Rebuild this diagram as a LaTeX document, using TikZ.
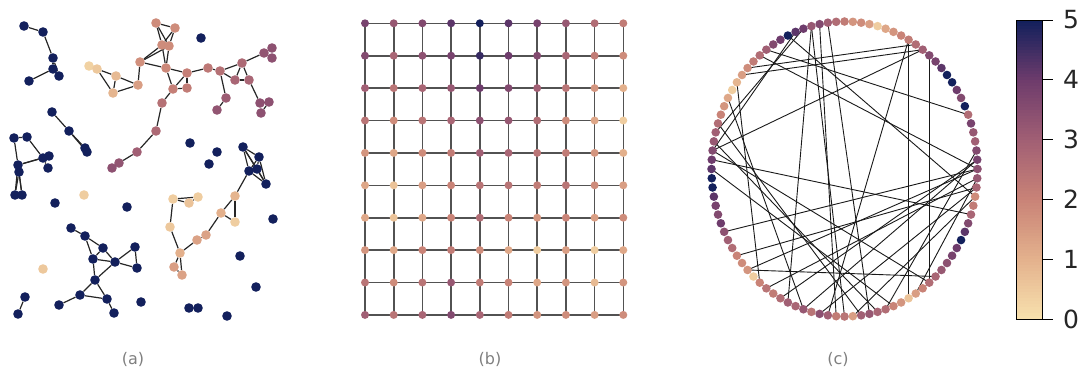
\documentclass[tikz,border=0pt]{standalone}
\usepackage{fontspec}
\setmainfont{DejaVu Sans}
\usepackage{tikz}
\usetikzlibrary{calc}
\definecolor{cm0}{HTML}{F7E0AD}
\definecolor{cm1}{HTML}{E3B08C}
\definecolor{cm2}{HTML}{C98377}
\definecolor{cm3}{HTML}{A15F74}
\definecolor{cm4}{HTML}{6E3C6C}
\definecolor{cm5}{HTML}{13205C}
\definecolor{capgray}{HTML}{7F7F7F}
\pgfdeclarelayer{edges}
\pgfsetlayers{edges,main}
\tikzset{
    val/.code={%
        \pgfmathsetmacro\cmv{#1}%
        \pgfmathtruncatemacro\cmlo{min(floor(\cmv),4)}%
        \pgfmathtruncatemacro\cmhi{\cmlo+1}%
        \pgfmathtruncatemacro\cmpct{round(100*(\cmv-\cmlo))}%
        \colorlet{cmfill}{cm\cmhi!\cmpct!cm\cmlo}%
        \pgfkeysalso{fill=cmfill}},
    dot/.style={circle,inner sep=0pt,draw=none},
    rgg/.style={dot,minimum size=9.6pt},
    gridpt/.style={dot,minimum size=8pt},
    ringpt/.style={dot,minimum size=8.6pt},
    link/.style={draw=black!85,line width=1.2pt},
    gridline/.style={draw=black!68,line width=1.6pt},
    chord/.style={draw=black!90,line width=0.9pt},
    caption/.style={text=capgray,font=\fontsize{16}{18}\selectfont},
    cbnum/.style={anchor=west,text=black!85,font=\fontsize{25}{27}\selectfont,inner sep=0pt},
}

\begin{document}
\begin{tikzpicture}[x=1pt,y=-1pt]
    \useasboundingbox (0,0) rectangle (1086,381);

    % (a) random geometric graph
    \foreach \n/\x/\y/\v in {
        tl1/24/26/5, tl2/43/32/5, tl3/53/58/5, tl4/53/69/5, tl5/59/76/5, tl6/29/81/5,
        w1/156/23/1.8, w2/175/28/1.8, w3/162/45/1.8, w4/169/46/1.8, w5/140/62/1.7,
        w6/166/68/1.9, w7/187/73/2.1, w8/173/89/2.1, w9/187/88/2.2, w10/208/68/2.3,
        w11/220/71/2.5, w12/242/63/2.7, w13/235/80/2.8, w14/249/80/2.8, w15/226/98/3.1,
        w16/217/110/3.3, w17/264/53/3.3, w18/272/48/3.4, w19/272/58/3.4, w20/260/103/3.4,
        w21/269/102/3.4, w22/261/113/3.4, w23/138/85/1.4, w24/162/103/2.5, w25/156/131/2.7,
        w26/137/152/3.0, w27/119/163/3.3, w28/112/168/3.4,
        y1/89/66/0.3, y2/97/69/0.5, y3/116/76/0.8, y4/113/93/0.9,
        m1/52/112/5, m2/69/131/5, m3/85/148/5, m4/87/152/5,
        l1/14/138/5, l2/27/137/5, l3/43/158/5, l4/49/156/5, l5/48/168/5,
        l6/18/165/5, l7/19/172/5, l8/15/195/5, l9/22/195/5,
        s1/201/38/5, s2/84/195/0.4, s3/55/203/5, s4/127/207/5, s5/190/143/5,
        s6/217/152/5, s7/209/164/5, s8/273/219/5, s9/240/256/5, s10/256/287/5,
        s11/227/316/5, s12/189/308/5, s13/198/308/5, s14/141/302/5, s15/43/269/0.5,
        e1/243/147/5, e2/259/157/5, e3/249/171/5, e4/257/169/5, e5/266/184/5,
        f1/235/196/0.9, f2/221/213/1.0, f3/235/222/0.4, f4/206/235/1.3, f5/197/240/1.3,
        f6/180/253/1.0, f7/174/267/1.4, f8/182/275/1.3, f9/170/227/0.5, f10/173/199/0.4,
        f11/189/203/0.6, f12/198/197/0.4,
        g1/71/228/5, g2/85/236/5, g3/103/248/5, g4/93/259/5, g5/115/262/5, g6/135/247/5,
        g7/137/268/5, g8/95/280/5, g9/80/295/5, g10/107/299/5, g11/59/305/5, g12/114/313/5,
        h1/25/297/5, h2/18/314/5}
        \node[rgg,val=\v] (\n) at (\x,\y) {};

    \begin{pgfonlayer}{edges}
    \foreach \p/\q in {
        tl1/tl2, tl2/tl3, tl3/tl4, tl4/tl5, tl4/tl6, tl3/tl5,
        w1/w2, w1/w3, w1/w4, w2/w3, w2/w4, w3/w4, w3/w5, w4/w5, w3/w6, w4/w6, w5/w6,
        w5/w23, w6/w7, w6/w8, w7/w8, w7/w9, w8/w9, w7/w10, w10/w11, w11/w12, w11/w13,
        w12/w13, w12/w14, w13/w14, w12/w17, w17/w18, w17/w19, w18/w19, w11/w15, w15/w16,
        w14/w20, w20/w21, w20/w22, w21/w22, w8/w24, w24/w25, w25/w26, w26/w27, w27/w28,
        y1/y2, y2/y3, y2/y4, y3/y4, y3/w23, y4/w23,
        m1/m2, m2/m3, m2/m4,
        l1/l2, l1/l6, l2/l3, l6/l3, l6/l4, l3/l4, l3/l5, l6/l7, l7/l8, l7/l9, l6/l8, l6/l9,
        e1/e2, e1/e3, e1/e4, e1/e5, e2/e3, e2/e4, e2/e5, e3/e4, e4/e5, e3/e5, e3/f1,
        f1/f2, f1/f3, f2/f3, f2/f4, f4/f5, f5/f6, f6/f7, f6/f8, f7/f8, f6/f9, f9/f10,
        f10/f11, f10/f12, f11/f12,
        g1/g2, g2/g3, g2/g4, g3/g4, g3/g5, g4/g5, g5/g6, g5/g7, g6/g7, g4/g8, g5/g8,
        g8/g9, g8/g10, g9/g10, g9/g11, g10/g12,
        h1/h2}
        \draw[link] (\p) -- (\q);
    \end{pgfonlayer}

    % (b) lattice
    \foreach \vals [count=\r from 0] in {
        {3.8,3.2,3.6,4.2,5.0,4.2,3.8,3.2,2.6,2.2},
        {3.6,2.8,3.4,3.8,4.6,4.0,3.6,2.8,2.2,1.8},
        {3.0,2.4,2.8,3.2,4.0,3.6,3.0,2.4,1.6,1.0},
        {2.4,1.8,2.4,2.8,3.4,3.2,2.6,1.8,1.2,0.4},
        {1.6,1.2,1.8,2.2,3.0,2.8,2.4,2.2,1.6,1.0},
        {1.2,0.6,1.4,2.0,2.4,2.4,2.2,2.4,1.8,1.4},
        {1.2,0.6,1.2,2.0,2.6,2.0,1.6,2.0,1.4,1.8},
        {1.6,1.2,2.0,2.2,1.8,1.2,0.4,1.4,0.4,1.2},
        {2.4,1.8,2.4,3.2,2.2,2.0,1.2,1.6,0.8,1.6},
        {3.0,2.4,2.8,3.6,2.8,2.2,1.6,1.8,1.4,1.8}} {
        \foreach \v [count=\c from 0] in \vals
            \node[gridpt,val=\v] (q-\r-\c) at ({365+28.7*\c},{23.3+32.4*\r}) {};
    }

    \begin{pgfonlayer}{edges}
    \foreach \r in {0,...,9} {
        \foreach \c [evaluate=\c as \cn using int(\c+1)] in {0,...,8} {
            \draw[gridline] (q-\r-\c.center) -- (q-\r-\cn.center);
            \draw[gridline] (q-\c-\r.center) -- (q-\cn-\r.center);
        }
    }
    \end{pgfonlayer}

    % (c) ring with random chords
    \foreach \v [count=\i from 0] in {
        3.4,3.8,3.6,3.0,3.2,3.8,2.6,5.0,3.6,4.0,5.0,5.0,4.2,3.8,3.6,3.0,2.6,2.2,2.0,1.6,
        1.2,0.4,1.4,1.8,1.6,2.2,2.6,3.0,3.6,3.2,4.0,4.2,5.0,4.0,3.6,3.0,2.6,2.2,1.8,1.4,
        0.9,0.4,1.2,1.6,2.0,2.6,3.0,3.2,3.6,4.0,4.2,5.0,5.0,4.2,3.8,3.6,4.0,3.4,3.0,2.6,
        2.0,1.8,1.6,0.4,2.0,2.4,2.2,2.6,3.0,2.8,3.2,2.4,3.4,3.0,2.2,2.4,1.4,3.0,3.2,2.8,
        2.6,2.0,1.6,0.6,1.4,2.0,2.6,2.8,3.2,3.4,3.8,4.0,5.0,4.2,3.6,2.8,2.2,1.8,2.8,3.2}
        \node[ringpt,val=\v] (r\i) at ({844.5+133*cos(3.6*\i)},{169-147.5*sin(3.6*\i)}) {};

    \begin{pgfonlayer}{edges}
    \foreach \p/\q in {
        29/68, 29/75, 28/74, 27/78, 30/46, 31/48, 17/83, 17/73, 15/48, 14/86,
        39/15, 38/16, 35/6, 32/97, 36/0, 40/64, 42/70, 47/79, 48/86, 62/87,
        0/62, 99/65, 1/70, 98/72, 97/76, 2/80, 99/84, 0/57, 98/60, 1/67,
        50/81, 45/77, 49/95}
        \draw[chord] (r\p.center) -- (r\q.center);
    \end{pgfonlayer}

    % colour bar
    \foreach \k in {0,...,99}
        \fill[val=\k/19.8] (1016.7,{319.3-2.993*\k}) rectangle (1042.3,{319.3-2.993*(\k+1)-0.4});
    \draw[black,line width=1pt] (1016.7,20) rectangle (1042.3,319.3);
    \foreach \k in {0,...,5} {
        \draw[black,line width=1pt] (1042.3,{319.3-59.86*\k}) -- (1052.5,{319.3-59.86*\k});
        \node[cbnum] (cb\k) at (1063,{319.3-59.86*\k}) {\k};
    }

    % panel captions
    \node[caption] (cap-a) at (133,359) {(a)};
    \node[caption] (cap-b) at (490,359) {(b)};
    \node[caption] (cap-c) at (838,359) {(c)};
\end{tikzpicture}
\end{document}
